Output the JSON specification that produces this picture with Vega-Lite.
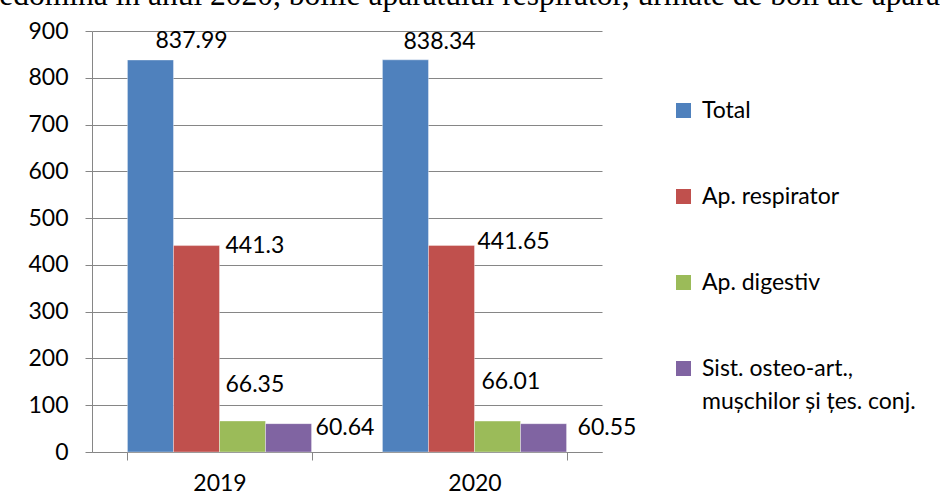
{
  "$schema": "https://vega.github.io/schema/vega-lite/v6.json",
  "autosize": "none",
  "width": 510,
  "height": 421,
  "padding": {"left": 92, "top": 31, "right": 338, "bottom": 44},
  "background": "white",
  "title": {
    "text": "predomină în anul 2020, bolile aparatului respirator, urmate de boli ale aparatului digestiv",
    "anchor": "start",
    "frame": "group",
    "font": "Liberation Serif",
    "fontSize": 31.5,
    "fontWeight": "normal",
    "color": "black",
    "baseline": "alphabetic",
    "offset": 12,
    "dy": 28,
    "dx": -119,
    "limit": 2000
  },
  "data": {
    "values": [
      {"year": "2019", "series": "Total", "value": 837.99},
      {"year": "2019", "series": "Ap. respirator", "value": 441.3},
      {"year": "2019", "series": "Ap. digestiv", "value": 66.35},
      {"year": "2019", "series": "Sist. osteo-art., mușchilor și țes. conj.", "value": 60.64},
      {"year": "2020", "series": "Total", "value": 838.34},
      {"year": "2020", "series": "Ap. respirator", "value": 441.65},
      {"year": "2020", "series": "Ap. digestiv", "value": 66.01},
      {"year": "2020", "series": "Sist. osteo-art., mușchilor și țes. conj.", "value": 60.55}
    ]
  },
  "encoding": {
    "x": {
      "field": "year", "type": "nominal",
      "scale": {"paddingInner": 0.278, "paddingOuter": 0.139},
      "axis": {
        "title": null, "labelAngle": 0, "tickBand": "extent",
        "domainColor": "#868686", "tickColor": "#868686", "tickSize": 8,
        "labelFont": "Lato", "labelFontSize": 23, "labelColor": "black",
        "labelPadding": 12, "labelBaseline": "top"
      }
    },
    "xOffset": {
      "field": "series", "type": "nominal",
      "sort": ["Total", "Ap. respirator", "Ap. digestiv", "Sist. osteo-art., mușchilor și țes. conj."],
      "scale": {"paddingInner": 0, "paddingOuter": 0}
    },
    "y": {
      "field": "value", "type": "quantitative",
      "scale": {"domain": [0, 900], "nice": false},
      "axis": {
        "title": null, "values": [0, 100, 200, 300, 400, 500, 600, 700, 800, 900],
        "domainColor": "#868686", "tickColor": "#868686", "tickSize": 7,
        "gridColor": "#868686", "gridWidth": 1, "gridOpacity": 1,
        "labelFont": "Lato", "labelFontSize": 23, "labelColor": "black",
        "labelPadding": 17
      }
    }
  },
  "layer": [
    {
      "mark": {"type": "bar", "stroke": "white", "strokeWidth": 0.6, "strokeOpacity": 0.6},
      "encoding": {
        "color": {
          "field": "series", "type": "nominal",
          "scale": {
            "domain": ["Total", "Ap. respirator", "Ap. digestiv", "Sist. osteo-art., mușchilor și țes. conj."],
            "range": ["#4F81BD", "#C0504D", "#9BBB59", "#8064A2"]
          },
          "legend": {
            "title": null, "orient": "none", "legendX": 580, "legendY": 68,
            "symbolType": "square", "symbolSize": 225, "symbolStrokeWidth": 0, "symbolOpacity": 1,
            "labelFont": "Lato", "labelFontSize": 23, "labelColor": "black", "labelOffset": 7,
            "labelLimit": 400, "rowPadding": 62, "padding": 0,
            "labelExpr": "datum.label == 'Sist. osteo-art., mușchilor și țes. conj.' ? ['Sist. osteo-art.,', 'mușchilor și țes. conj.'] : datum.label",
            "encoding": {
              "labels": {
                "lineHeight": {"value": 33}
              }
            }
          }
        }
      }
    },
    {"transform": [{"filter": "datum.year == '2019' && datum.series == 'Total'"}],
     "mark": {"type": "text", "font": "Lato", "fontSize": 23, "align": "left", "baseline": "middle", "dx": 5, "dy": -19, "color": "black"},
     "encoding": {"text": {"field": "value", "type": "nominal"}}},
    {"transform": [{"filter": "datum.year == '2020' && datum.series == 'Total'"}],
     "mark": {"type": "text", "font": "Lato", "fontSize": 23, "align": "left", "baseline": "middle", "dx": -2, "dy": -18, "color": "black"},
     "encoding": {"text": {"field": "value", "type": "nominal"}}},
    {"transform": [{"filter": "datum.year == '2019' && datum.series == 'Ap. respirator'"}],
     "mark": {"type": "text", "font": "Lato", "fontSize": 23, "align": "left", "baseline": "middle", "dx": 29, "dy": 0, "color": "black"},
     "encoding": {"text": {"field": "value", "type": "nominal"}}},
    {"transform": [{"filter": "datum.year == '2020' && datum.series == 'Ap. respirator'"}],
     "mark": {"type": "text", "font": "Lato", "fontSize": 23, "align": "left", "baseline": "middle", "dx": 26, "dy": -3, "color": "black"},
     "encoding": {"text": {"field": "value", "type": "nominal"}}},
    {"transform": [{"filter": "datum.year == '2019' && datum.series == 'Ap. digestiv'"}],
     "mark": {"type": "text", "font": "Lato", "fontSize": 23, "align": "left", "baseline": "middle", "dx": -17, "dy": -36, "color": "black"},
     "encoding": {"text": {"field": "value", "type": "nominal"}}},
    {"transform": [{"filter": "datum.year == '2020' && datum.series == 'Ap. digestiv'"}],
     "mark": {"type": "text", "font": "Lato", "fontSize": 23, "align": "left", "baseline": "middle", "dx": -16, "dy": -39, "color": "black"},
     "encoding": {"text": {"field": "value", "type": "nominal"}}},
    {"transform": [{"filter": "datum.year == '2019' && datum.series == 'Sist. osteo-art., mușchilor și țes. conj.'"}],
     "mark": {"type": "text", "font": "Lato", "fontSize": 23, "align": "left", "baseline": "middle", "dx": 27, "dy": 4, "color": "black"},
     "encoding": {"text": {"field": "value", "type": "nominal"}}},
    {"transform": [{"filter": "datum.year == '2020' && datum.series == 'Sist. osteo-art., mușchilor și țes. conj.'"}],
     "mark": {"type": "text", "font": "Lato", "fontSize": 23, "align": "left", "baseline": "middle", "dx": 34, "dy": 4, "color": "black"},
     "encoding": {"text": {"field": "value", "type": "nominal"}}}
  ],
  "config": {
    "view": {"stroke": null},
    "axis": {"domainWidth": 1, "tickWidth": 1}
  }
}
